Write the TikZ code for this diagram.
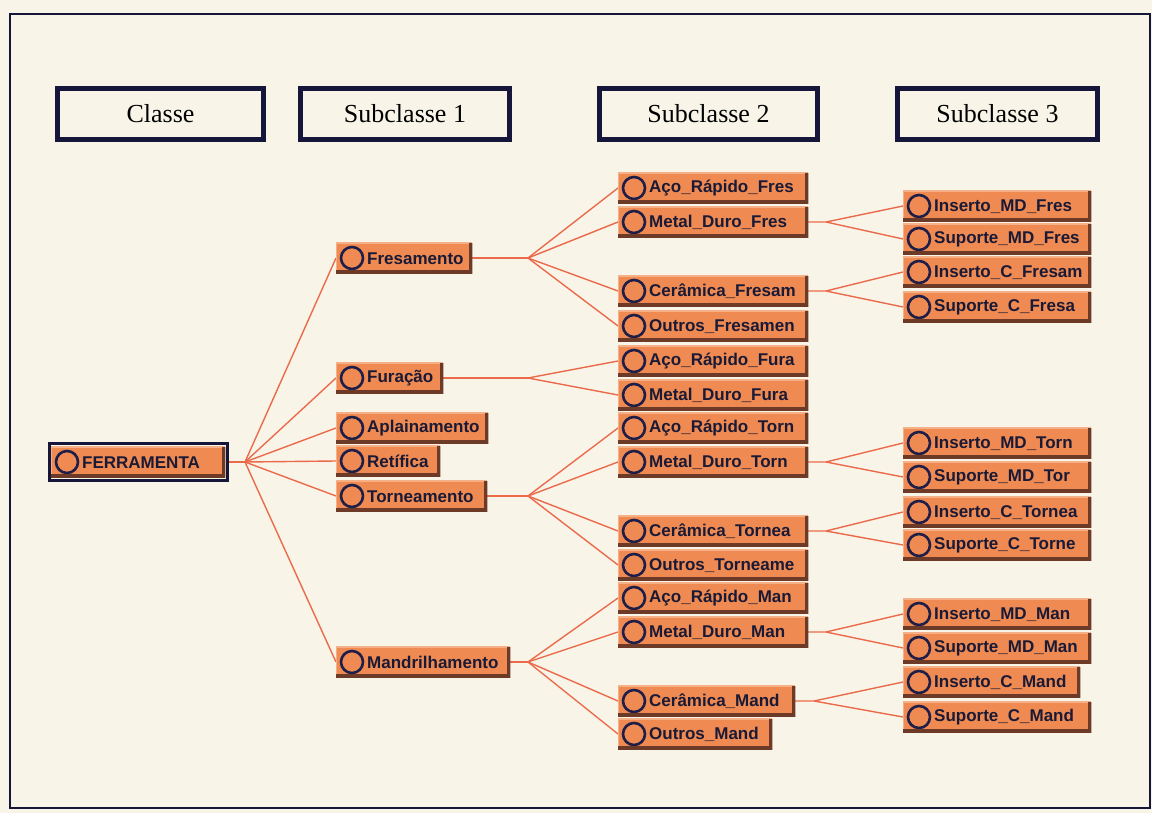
\documentclass[tikz,border=0pt]{standalone}
\usepackage{fontspec}
\setmainfont{Liberation Serif}
\newfontfamily\uifont{Liberation Sans}
\definecolor{paper}{HTML}{F8F5E8}
\definecolor{framenavy}{HTML}{16163A}
\definecolor{boxorange}{HTML}{EE8A52}
\definecolor{boxshadow}{HTML}{6E3A28}
\definecolor{boxlight}{HTML}{F6B088}
\definecolor{iconnavy}{HTML}{1E1E48}
\definecolor{labelnavy}{HTML}{1A1A36}
\definecolor{linkred}{HTML}{EC6A4C}
\tikzset{
  header/.style={draw=framenavy, line width=5pt, fill=paper, inner sep=0pt,
    minimum height=51pt, font=\fontsize{26}{26}\selectfont},
  clsbox/.style={rectangle, fill=boxorange, inner sep=0pt, minimum height=30pt, anchor=west},
  clslabel/.style={inner sep=0pt, anchor=west, text=labelnavy, font=\uifont\bfseries\fontsize{17}{17}\selectfont},
  clsicon/.style={draw=iconnavy, line width=2.6pt, fill=boxorange},
  link/.style={draw=linkred, line width=1.4pt},
}
% class box: name, left x, centre y, right x, label
\newcommand\clsnode[5]{%
  \node[clsbox, minimum width={#4pt-#2pt}] (#1) at (#2,#3) {};
  \begin{scope}
    \clip (#1.south west) rectangle (#1.north east);
    \draw[boxlight, line width=2pt] (#1.south west) -- (#1.north west) -- (#1.north east);
    \draw[clsicon] ([xshift=16pt]#1.west) circle (11pt);
    \node[clslabel] (#1-t) at ([xshift=31pt,yshift=-0.5pt]#1.west) {#5};
    \draw[boxshadow, line width=6pt] (#1.south west) -- (#1.south east) -- (#1.north east);
  \end{scope}}
\begin{document}
\begin{tikzpicture}[x=1pt,y=-1pt]
\useasboundingbox (0,0) rectangle (1152,813);
\fill[paper] (0,0) rectangle (1152,813);
\draw[framenavy, line width=2pt] (10,14) rectangle (1150,808);

% column headers
\node[header, minimum width=206pt] (h0) at (160.5,114) {Classe};
\node[header, minimum width=209pt] (h1) at (405,114) {Subclasse 1};
\node[header, minimum width=218pt] (h2) at (708.5,114) {Subclasse 2};
\node[header, minimum width=200pt] (h3) at (997.5,114) {Subclasse 3};

% fan points
\coordinate (c0) at (245,462);
\coordinate (c1) at (528,258);
\coordinate (c2) at (528,378);
\coordinate (c3) at (528,496);
\coordinate (c4) at (528,662);
\coordinate (d1) at (826,222);
\coordinate (d2) at (826,291);
\coordinate (d3) at (826,462);
\coordinate (d4) at (826,531);
\coordinate (d5) at (826,632);
\coordinate (d6) at (814,701);

% connectors
\draw[link] (228,462) -- (c0);
\foreach \y in {258,378,428,461,496,662}{ \draw[link] (c0) -- (336,\y); }
\draw[link] (472,258) -- (c1);
\foreach \y in {188,222,291,326}{ \draw[link] (c1) -- (618,\y); }
\draw[link] (443,378) -- (c2);
\foreach \y in {361,395}{ \draw[link] (c2) -- (618,\y); }
\draw[link] (487,496) -- (c3);
\foreach \y in {428,462,531,565}{ \draw[link] (c3) -- (618,\y); }
\draw[link] (510,662) -- (c4);
\foreach \y in {598,632,701,734}{ \draw[link] (c4) -- (618,\y); }
\draw[link] (808,222) -- (d1) (d1) -- (903,206) (d1) -- (903,239);
\draw[link] (808,291) -- (d2) (d2) -- (903,272) (d2) -- (903,307);
\draw[link] (808,462) -- (d3) (d3) -- (903,443) (d3) -- (903,477);
\draw[link] (808,531) -- (d4) (d4) -- (903,512) (d4) -- (903,545);
\draw[link] (808,632) -- (d5) (d5) -- (903,614) (d5) -- (903,648);
\draw[link] (795,701) -- (d6) (d6) -- (903,682) (d6) -- (903,717);

% root class
\clsnode{ferr}{51}{462}{225}{FERRAMENTA}
\draw[framenavy, line width=3pt] ([xshift=-2pt,yshift=-3pt]ferr.south west) rectangle ([xshift=2pt,yshift=3pt]ferr.north east);

% subclass 1
\clsnode{fres}{336}{258}{472}{Fresamento}
\clsnode{fura}{336}{378}{443}{Furação}
\clsnode{apla}{336}{428}{488}{Aplainamento}
\clsnode{reti}{336}{461}{440}{Retífica}
\clsnode{torn}{336}{496}{487}{Torneamento}
\clsnode{mand}{336}{662}{510}{Mandrilhamento}

% subclass 2
\clsnode{arf}{618}{188}{808}{Aço\_Rápido\_Fres}
\clsnode{mdf}{618}{222}{808}{Metal\_Duro\_Fres}
\clsnode{cef}{618}{291}{808}{Cerâmica\_Fresam}
\clsnode{otf}{618}{326}{808}{Outros\_Fresamen}
\clsnode{arfu}{618}{361}{808}{Aço\_Rápido\_Fura}
\clsnode{mdfu}{618}{395}{808}{Metal\_Duro\_Fura}
\clsnode{art}{618}{428}{808}{Aço\_Rápido\_Torn}
\clsnode{mdt}{618}{462}{808}{Metal\_Duro\_Torn}
\clsnode{cet}{618}{531}{808}{Cerâmica\_Tornea}
\clsnode{ott}{618}{565}{808}{Outros\_Torneame}
\clsnode{arm}{618}{598}{808}{Aço\_Rápido\_Man}
\clsnode{mdm}{618}{632}{808}{Metal\_Duro\_Man}
\clsnode{cem}{618}{701}{795}{Cerâmica\_Mand}
\clsnode{otm}{618}{734}{772}{Outros\_Mand}

% subclass 3
\clsnode{imf}{903}{206}{1091}{Inserto\_MD\_Fres}
\clsnode{smf}{903}{239}{1091}{Suporte\_MD\_Fres}
\clsnode{icf}{903}{272}{1091}{Inserto\_C\_Fresam}
\clsnode{scf}{903}{307}{1091}{Suporte\_C\_Fresa}
\clsnode{imt}{903}{443}{1091}{Inserto\_MD\_Torn}
\clsnode{smt}{903}{477}{1091}{Suporte\_MD\_Tor}
\clsnode{ict}{903}{512}{1091}{Inserto\_C\_Tornea}
\clsnode{sct}{903}{545}{1091}{Suporte\_C\_Torne}
\clsnode{imm}{903}{614}{1091}{Inserto\_MD\_Man}
\clsnode{smm}{903}{648}{1091}{Suporte\_MD\_Man}
\clsnode{icm}{903}{682}{1080}{Inserto\_C\_Mand}
\clsnode{scm}{903}{717}{1091}{Suporte\_C\_Mand}
\end{tikzpicture}
\end{document}
